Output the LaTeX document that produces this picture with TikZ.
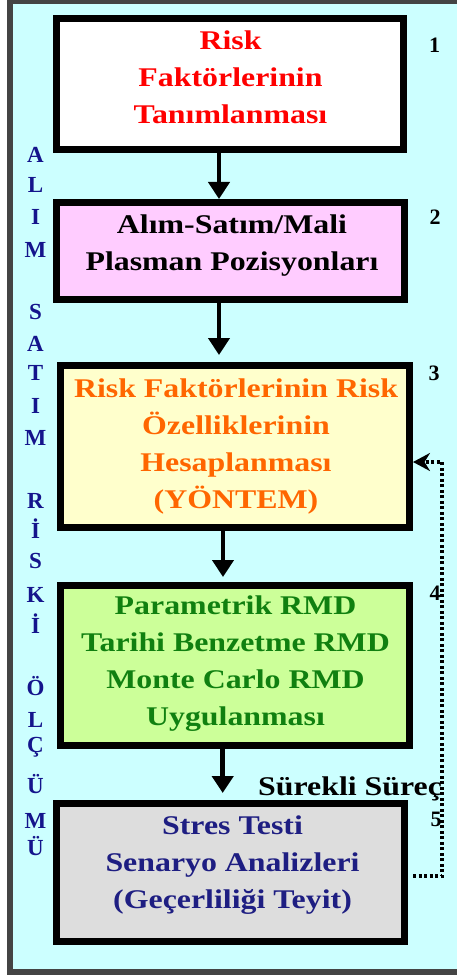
\documentclass[tikz,border=0pt]{standalone}
\usepackage{fontspec}
\setmainfont{Liberation Serif}[FakeStretch=1.18]
\newfontfamily\plainserif{Liberation Serif}
\usetikzlibrary{arrows.meta}

\definecolor{bgcyan}{HTML}{CCFFFF}
\definecolor{framegray}{HTML}{444444}
\definecolor{fillpink}{HTML}{FFCCFF}
\definecolor{fillcream}{HTML}{FFFFCC}
\definecolor{fillgreen}{HTML}{CCFF99}
\definecolor{fillgray}{HTML}{DDDDDD}
\definecolor{txtorange}{HTML}{FF6600}
\definecolor{txtgreen}{HTML}{108010}
\definecolor{txtnavy}{HTML}{1E1E82}
\definecolor{sidenavy}{HTML}{14148C}

\tikzset{
  stepbox/.style={draw=black, line width=7pt, rectangle, inner sep=0pt},
  % multi-line captions: the base anchor sits on the last line's baseline
  boxtext/.style={font=\bfseries\fontsize{27}{37}\selectfont, align=center, inner sep=0pt},
  sideletter/.style={font=\plainserif\bfseries\fontsize{23}{23}\selectfont, text=sidenavy, inner sep=0pt, anchor=base},
  stepnum/.style={font=\plainserif\bfseries\fontsize{22}{22}\selectfont, inner sep=0pt, anchor=base},
  flow/.style={line width=4.5pt, -{Triangle[width=21pt,length=17pt]}},
  feedback/.style={line width=3.5pt, dash pattern=on 3pt off 2.5pt, -{Stealth[width=18pt,length=17pt]}}
}

\begin{document}
\begin{tikzpicture}[x=1pt, y=-1pt]
\useasboundingbox (0,0) rectangle (457,976);

% panel background and frame
\fill[bgcyan] (9,1) rectangle (470,973);
\draw[framegray, line width=6pt] (9.5,1) rectangle (475,972);

% process boxes
\node[stepbox, fill=white,      minimum width=347pt, minimum height=131pt] (b1) at (230,84) {};
\node[stepbox, fill=fillpink,   minimum width=348pt, minimum height=97pt]  (b2) at (230.5,251) {};
\node[stepbox, fill=fillcream,  minimum width=349pt, minimum height=162pt] (b3) at (235,446.5) {};
\node[stepbox, fill=fillgreen,  minimum width=349pt, minimum height=160pt] (b4) at (235,665.5) {};
\node[stepbox, fill=fillgray,   minimum width=348pt, minimum height=138pt] (b5) at (230.5,872.5) {};

% box captions
\node[boxtext, text=red, anchor=base] (t1) at (230.5,124) {Risk\\Faktörlerinin\\Tanımlanması};
\node[boxtext, text=black, anchor=base] (t2) at (232,270) {Alım-Satım/Mali\\Plasman Pozisyonları};
\node[boxtext, text=txtorange, anchor=base] (t3) at (236,508.3) {Risk Faktörlerinin Risk\\Özelliklerinin\\Hesaplanması\\(YÖNTEM)};
\node[boxtext, text=txtgreen, anchor=base] (t4) at (235.5,725) {Parametrik RMD\\Tarihi Benzetme RMD\\Monte Carlo RMD\\Uygulanması};
\node[boxtext, text=txtnavy, anchor=base] (t5) at (232.5,908.3) {Stres Testi\\Senaryo Analizleri\\(Geçerliliği Teyit)};

% step numbers
\node[stepnum] (n1) at (434.5,53) {1};
\node[stepnum] (n2) at (435,225) {2};
\node[stepnum] (n3) at (434,380) {3};
\node[stepnum] (n4) at (435,600) {4};
\node[stepnum] (n5) at (436,826) {5};

% vertical side title
\foreach \ch/\yy [count=\i] in {A/163, L/193, I/225, M/257, S/319, A/351, T/380, I/413, M/445,
    R/508, İ/538, S/568, K/602, İ/633, Ö/695, L/727, Ç/752, Ü/793, M/828, Ü/855}
  \node[sideletter] (side\i) at (35.5,\yy) {\ch};

% continuous process label
\node[boxtext, text=black, anchor=base west] (cont) at (258,795) {Sürekli Süreç};

% main flow
\draw[flow] ([xshift=-11pt]b1.south) -- ([xshift=-11pt]b1.south |- b2.north);
\draw[flow, shorten >=7pt] ([xshift=-11.5pt]b2.south) -- ([xshift=-11.5pt]b2.south |- b3.north);
\draw[flow, shorten >=5pt] ([xshift=-12pt]b3.south) -- ([xshift=-12pt]b3.south |- b4.north);
\draw[flow, shorten >=7pt] ([xshift=-12.3pt]b4.south) -- ([xshift=-12.3pt]b4.south |- b5.north);

% feedback loop from step 5 back to step 3
\coordinate (loop) at (442,462);
\draw[feedback] ([xshift=5pt,yshift=-3.5pt]b5.east) -| (loop) -- ([yshift=-15.5pt]b3.east);
\end{tikzpicture}
\end{document}
